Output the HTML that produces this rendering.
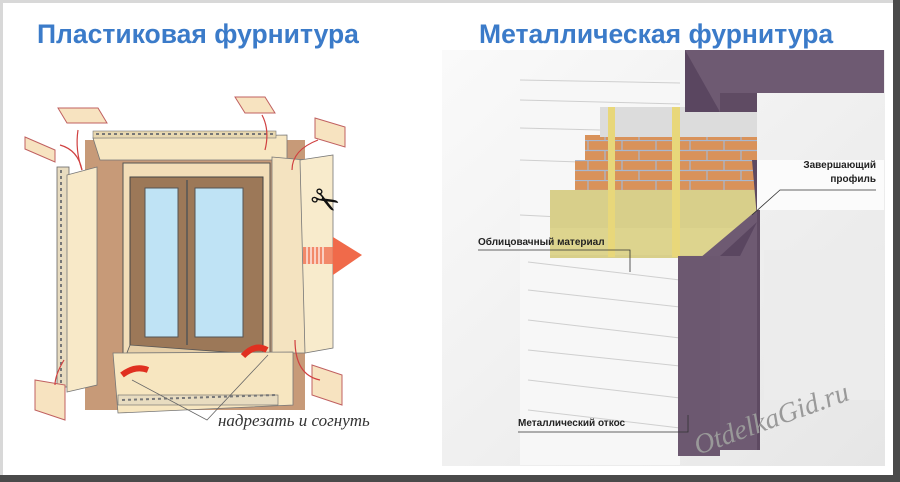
<!DOCTYPE html>
<html><head><meta charset="utf-8"><style>
html,body{margin:0;padding:0;background:#fff}
svg{display:block}
</style></head><body>
<svg width="900" height="482" viewBox="0 0 900 482" xmlns="http://www.w3.org/2000/svg" font-family="Liberation Sans, sans-serif">
<defs>
<linearGradient id="bg2" x1="0" y1="0" x2="1" y2="1"><stop offset="0" stop-color="#fafafa"/><stop offset="1" stop-color="#e6e6e6"/></linearGradient>
<pattern id="brick" width="34" height="20" patternUnits="userSpaceOnUse">
<rect width="34" height="20" fill="#d9925a"/>
<path d="M0 0.5H34M0 10.5H34M10 0V10M27 10V20" stroke="#a8b8d0" stroke-width="1.2"/>
</pattern>
</defs>
<rect width="900" height="482" fill="#fff"/>
<rect x="0" y="0" width="900" height="482" fill="none" stroke="#d8d8d8" stroke-width="6"/>
<rect x="893" y="0" width="7" height="482" fill="#4a4a4a"/>
<rect x="0" y="475" width="900" height="7" fill="#4a4a4a"/>
<text x="37" y="43" font-size="26.5" font-weight="bold" fill="#3b7bc9">Пластиковая фурнитура</text>
<text x="479" y="43" font-size="26.5" font-weight="bold" fill="#3b7bc9">Металлическая фурнитура</text>

<!-- LEFT illustration -->
<rect x="85" y="140" width="220" height="270" fill="#c79a78"/>
<polygon points="93,138 287,135 287,160 100,160" fill="#f7e7c2" stroke="#777" stroke-width="0.8"/>
<rect x="93" y="131" width="183" height="7" fill="#e8d8b0" stroke="#777" stroke-width="0.6"/>
<line x1="96" y1="134" x2="274" y2="134" stroke="#777" stroke-width="2" stroke-dasharray="3,3"/>
<rect x="123" y="163" width="147" height="200" fill="#f2ddb8" stroke="#555" stroke-width="1"/>
<rect x="130" y="177" width="133" height="176" fill="#9c7858" stroke="#444" stroke-width="1"/>
<rect x="145" y="188" width="33" height="149" fill="#bfe3f5" stroke="#555"/>
<rect x="195" y="188" width="48" height="149" fill="#bfe3f5" stroke="#555"/>
<line x1="187" y1="180" x2="187" y2="345" stroke="#555" stroke-width="1.5"/>
<polygon points="123,363 270,363 280,356 130,345" fill="#e6cfa8" stroke="#555" stroke-width="0.8"/>
<!-- left piece -->
<rect x="57" y="167" width="12" height="220" fill="#e8dcc0" stroke="#666" stroke-width="0.8"/>
<line x1="61" y1="170" x2="61" y2="384" stroke="#777" stroke-width="2" stroke-dasharray="3,3"/>
<polygon points="67,175 97,167 97,385 67,392" fill="#f8e9c8" stroke="#777" stroke-width="0.8"/>
<!-- right piece -->
<polygon points="272,157 305,160 305,353 272,353" fill="#f4e3c0" stroke="#777" stroke-width="0.8"/>
<polygon points="300,160 333,155 333,348 305,353" fill="#f8ebcc" stroke="#777" stroke-width="0.8"/>
<!-- bottom piece -->
<polygon points="113,353 293,352 293,405 118,413" fill="#f7e6c0" stroke="#777" stroke-width="0.8"/>
<rect x="118" y="395" width="160" height="10" fill="#e8dcc0" stroke="#666" stroke-width="0.6"/>
<line x1="122" y1="400" x2="275" y2="395" stroke="#777" stroke-width="2" stroke-dasharray="3,3"/>
<!-- tabs -->
<polygon points="58,108 98,108 107,123 67,123" fill="#f7e3c0" stroke="#c06060"/>
<polygon points="25,137 55,150 55,162 25,149" fill="#f7e3c0" stroke="#c06060"/>
<polygon points="235,97 265,97 275,113 245,113" fill="#f7e3c0" stroke="#c06060"/>
<polygon points="315,118 345,127 345,147 315,138" fill="#f7e3c0" stroke="#c06060"/>
<polygon points="35,380 65,385 65,420 35,410" fill="#f7e3c0" stroke="#c06060"/>
<polygon points="312,365 342,375 342,405 312,395" fill="#f7e3c0" stroke="#c06060"/>
<!-- arrow -->
<rect x="303" y="247" width="30" height="17" fill="#f07050" opacity="0.8"/>
<polygon points="333,237 362,255 333,275" fill="#f06a4a"/>
<g stroke="#fff" stroke-width="1.2"><line x1="307" y1="247" x2="307" y2="264"/><line x1="311" y1="247" x2="311" y2="264"/><line x1="315" y1="247" x2="315" y2="264"/><line x1="319" y1="247" x2="319" y2="264"/><line x1="323" y1="247" x2="323" y2="264"/></g>
<text x="312" y="215" font-size="34" fill="#111" transform="rotate(30 330 200)">✂</text>
<!-- red small arrows -->
<g fill="none" stroke="#d04040" stroke-width="1.2">
<path d="M82 170 Q75 150 78 130"/><path d="M82 170 Q78 150 60 145"/><path d="M265 150 Q270 130 262 115"/><path d="M292 170 Q292 150 318 140"/><path d="M295 340 Q295 375 320 380"/><path d="M64 360 Q55 375 55 385"/>
</g>
<path d="M122 375 Q135 365 148 370" stroke="#e03020" stroke-width="6" fill="none"/>
<path d="M243 356 Q255 343 267 350" stroke="#e03020" stroke-width="6" fill="none"/>
<g stroke="#666" stroke-width="0.8" fill="none"><path d="M132 380 L207 420 L268 355"/></g>
<text x="218" y="426" font-size="17" font-style="italic" font-family="Liberation Serif, serif" fill="#333">надрезать и согнуть</text>

<!-- RIGHT photo -->
<rect x="442" y="50" width="443" height="416" fill="url(#bg2)"/>
<rect x="520" y="80" width="160" height="385" fill="#f7f7f7"/>
<g stroke="#cfcfcf" stroke-width="1">
<line x1="520" y1="80" x2="680" y2="83"/><line x1="520" y1="100" x2="680" y2="104"/><line x1="520" y1="128" x2="600" y2="130"/><line x1="520" y1="160" x2="580" y2="162"/><line x1="520" y1="215" x2="560" y2="217"/><line x1="528" y1="262" x2="680" y2="280"/><line x1="528" y1="290" x2="680" y2="307"/><line x1="528" y1="320" x2="680" y2="338"/><line x1="528" y1="350" x2="680" y2="366"/><line x1="528" y1="380" x2="680" y2="398"/><line x1="528" y1="410" x2="680" y2="428"/></g>
<rect x="600" y="107" width="157" height="130" fill="url(#brick)"/>
<polygon points="585,135 600,135 600,237 555,237 555,200 575,200 575,160 585,160" fill="url(#brick)"/>
<rect x="600" y="107" width="157" height="30" fill="#dcdcdc"/>
<polygon points="550,190 757,190 757,232 700,258 550,258" fill="#d8cf8a"/>
<rect x="550" y="228" width="200" height="27" fill="#ddd48e"/>
<rect x="608" y="107" width="7" height="150" fill="#e8d77a"/>
<rect x="672" y="107" width="8" height="150" fill="#e8d77a"/>
<polygon points="757,218 757,450 760,450 760,160 752,160" fill="#5e4a62"/>
<polygon points="700,258 757,210 757,450 717,450" fill="#6e5a72"/>
<rect x="678" y="256" width="42" height="200" fill="#6c5870"/>
<polygon points="678,256 720,256 757,222 740,256" fill="#5a4660"/>
<rect x="757" y="160" width="127" height="50" fill="#fbfbfb"/>
<polygon points="685,50 884,50 884,93 757,93 757,112 720,112 685,65" fill="#6e5a72"/>
<polygon points="685,50 720,112 685,112" fill="#5a4660"/>
<rect x="720" y="93" width="37" height="19" fill="#5f4b63"/>
<rect x="764" y="250" width="120" height="150" fill="#ececec"/>
<text x="478" y="245" font-size="10" font-weight="bold" fill="#222">Облицовачный материал</text>
<path d="M478 250 H630 V272" fill="none" stroke="#333" stroke-width="0.8"/>
<text x="876" y="168" font-size="10" font-weight="bold" fill="#222" text-anchor="end">Завершающий</text>
<text x="876" y="182" font-size="10" font-weight="bold" fill="#222" text-anchor="end">профиль</text>
<path d="M876 190 H780 L752 215" fill="none" stroke="#333" stroke-width="0.8"/>
<text x="518" y="426" font-size="10" font-weight="bold" fill="#222">Металлический откос</text>
<path d="M518 432 H688 V415" fill="none" stroke="#333" stroke-width="0.8"/>
<text x="698" y="455" font-size="28" font-style="italic" font-family="Liberation Serif, serif" fill="#999" transform="rotate(-20 698 455)">OtdelkaGid.ru</text>
</svg>
</body></html>
